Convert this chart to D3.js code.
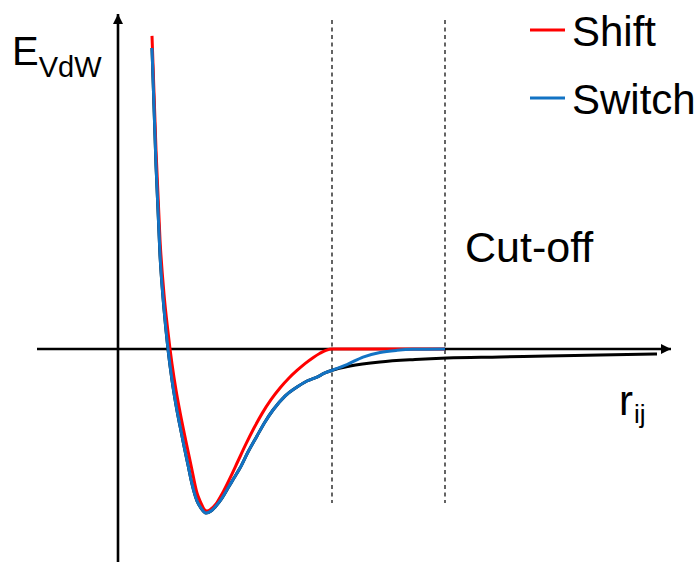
<!DOCTYPE html>
<html>
<head>
<meta charset="utf-8">
<script src="https://cdn.jsdelivr.net/npm/d3@7"></script>
<style>
  html, body { margin: 0; padding: 0; background: #fff; }
  svg text { font-family: "Liberation Sans", Arial, sans-serif; fill: #000; }
</style>
</head>
<body>
<svg id="chart" width="698" height="562"></svg>
<script>
// values (r in arbitrary units, E relative to well depth)
var ljR = [0.68, 0.76, 0.84, 0.92, 1.0, 1.08, 1.16, 1.24, 1.32, 1.40, 1.48, 1.58, 1.66, 1.76,
  1.86, 1.96, 2.08, 2.20, 2.32, 2.44, 2.60, 2.78, 2.94, 3.10, 3.34, 3.58, 3.78, 3.98, 4.14, 4.30,
  4.64, 5.24, 5.94, 6.58, 7.64, 8.58, 9.64, 10.78];
var ljE = [1.835, 1.122, 0.573, 0.244, 0, -0.189, -0.341, -0.470, -0.591, -0.707, -0.823, -0.927, -0.970, -1.0,
  -0.988, -0.957, -0.909, -0.848, -0.787, -0.726, -0.628, -0.530, -0.445, -0.372, -0.287, -0.232, -0.195, -0.171, -0.146, -0.128,
  -0.104, -0.079, -0.064, -0.055, -0.049, -0.043, -0.037, -0.030];

var shiftR = [0.68, 0.76, 0.84, 0.92, 1.0, 1.04, 1.08, 1.16, 1.24, 1.32, 1.40, 1.48, 1.58, 1.66, 1.72, 1.78,
  1.86, 1.96, 2.08, 2.24, 2.40, 2.56, 2.72, 2.88, 3.06, 3.24, 3.42, 3.58, 3.74, 3.90, 4.04, 4.16, 4.28, 6.54];
var shiftE = [1.909, 1.213, 0.665, 0.335, 0.104, 0, -0.091, -0.25, -0.384, -0.506, -0.622, -0.738, -0.878, -0.939, -0.976, -0.988,
  -0.976, -0.945, -0.884, -0.787, -0.683, -0.579, -0.482, -0.394, -0.309, -0.238, -0.177, -0.131, -0.089, -0.053, -0.026, -0.008, 0, 0];

var switchR = [0.68, 0.76, 0.84, 0.92, 1.0, 1.08, 1.16, 1.24, 1.32, 1.40, 1.48, 1.58, 1.66, 1.76,
  1.86, 1.96, 2.08, 2.20, 2.32, 2.44, 2.60, 2.78, 2.94, 3.10, 3.34, 3.58, 3.78, 3.98, 4.14, 4.30,
  4.58, 4.90, 5.24, 5.58, 5.90, 6.54];
var switchE = [1.835, 1.122, 0.573, 0.244, 0, -0.189, -0.341, -0.470, -0.591, -0.707, -0.823, -0.927, -0.970, -1.0,
  -0.988, -0.957, -0.909, -0.848, -0.787, -0.726, -0.628, -0.530, -0.445, -0.372, -0.287, -0.232, -0.195, -0.171, -0.146, -0.128,
  -0.095, -0.049, -0.021, -0.008, -0.002, 0];

var cutoffs = [4.28, 6.54];
var legendNames = ['Shift', 'Switch'];
var legendColors = ['#ff0000', '#1273c4'];

var svg = d3.select('#chart');

// scales
var x = d3.scaleLinear().domain([0, 11]).range([118, 668]);
var y = d3.scaleLinear().domain([-1, 0]).range([513, 349]);

var zip = function (rs, es) {
  return rs.map(function (r, i) { return [r, es[i]]; });
};

var line = d3.line()
  .x(function (d) { return x(d[0]); })
  .y(function (d) { return y(d[1]); })
  .curve(d3.curveMonotoneX);

// arrow heads
var defs = svg.append('defs');
defs.append('marker')
  .attr('id', 'arrow')
  .attr('viewBox', '0 0 10 10')
  .attr('refX', 10).attr('refY', 5)
  .attr('markerWidth', 4).attr('markerHeight', 4)
  .attr('markerUnits', 'strokeWidth')
  .attr('orient', 'auto')
  .append('path')
  .attr('d', 'M0,0 L10,5 L0,10 z')
  .attr('fill', '#000');

// dashed cut-off lines
svg.selectAll('line.cut')
  .data(cutoffs)
  .enter().append('line')
  .attr('class', 'cut')
  .attr('x1', function (d) { return x(d); })
  .attr('x2', function (d) { return x(d); })
  .attr('y1', 20)
  .attr('y2', 503)
  .attr('stroke', '#111')
  .attr('stroke-width', 1.3)
  .attr('stroke-dasharray', '4,3.5');

// axes
svg.append('line')
  .attr('x1', 37).attr('x2', 671)
  .attr('y1', y(0)).attr('y2', y(0))
  .attr('stroke', '#000').attr('stroke-width', 2.6)
  .attr('marker-end', 'url(#arrow)');

svg.append('line')
  .attr('x1', x(0)).attr('x2', x(0))
  .attr('y1', 562).attr('y2', 14)
  .attr('stroke', '#000').attr('stroke-width', 2.6)
  .attr('marker-end', 'url(#arrow)');

// curves
var curves = [
  { data: zip(ljR, ljE), color: '#000' },
  { data: zip(shiftR, shiftE), color: legendColors[0] },
  { data: zip(switchR, switchE), color: legendColors[1] }
];

svg.selectAll('path.curve')
  .data(curves)
  .enter().append('path')
  .attr('class', 'curve')
  .attr('d', function (d) { return line(d.data); })
  .attr('fill', 'none')
  .attr('stroke', function (d) { return d.color; })
  .attr('stroke-width', 3)
  .attr('stroke-linejoin', 'round');

// legend
var legend = svg.selectAll('g.legend')
  .data(legendNames)
  .enter().append('g')
  .attr('class', 'legend')
  .attr('transform', function (d, i) { return 'translate(530,' + (30 + i * 68) + ')'; });

legend.append('line')
  .attr('x1', 0).attr('x2', 35)
  .attr('stroke', function (d, i) { return legendColors[i]; })
  .attr('stroke-width', 3);

legend.append('text')
  .attr('x', 42).attr('y', 16)
  .attr('font-size', 42)
  .text(function (d) { return d; });

// labels
var ey = svg.append('text').attr('x', 12).attr('y', 65).attr('font-size', 40);
ey.append('tspan').text('E');
ey.append('tspan').attr('font-size', 29).attr('dy', 12).text('VdW');

var rx = svg.append('text').attr('x', 619).attr('y', 415).attr('font-size', 42);
rx.append('tspan').text('r');
rx.append('tspan').attr('font-size', 26).attr('dy', 8).attr('dx', 1).text('ij');

svg.append('text')
  .attr('x', 465).attr('y', 262)
  .attr('font-size', 43)
  .text('Cut-off');
</script>
</body>
</html>
